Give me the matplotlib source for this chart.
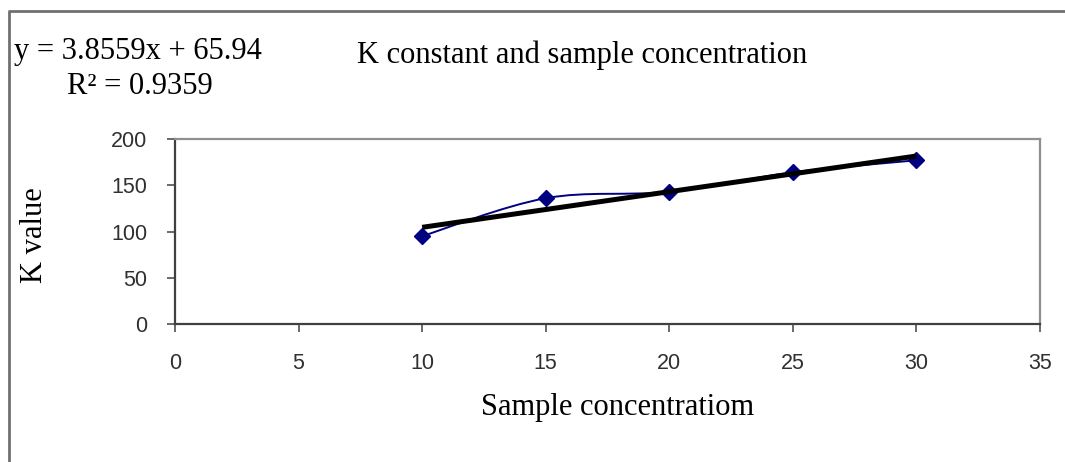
import numpy as np
import matplotlib
matplotlib.use("Agg")
import matplotlib.pyplot as plt
from matplotlib.path import Path
from matplotlib.patches import PathPatch
from matplotlib.lines import Line2D

# Data
concentration = [10, 15, 20, 25, 30]
k_value = [95, 136, 143, 164, 177]
x_ticks = [0, 5, 10, 15, 20, 25, 30, 35]
y_ticks = [0, 50, 100, 150, 200]
title = "K constant and sample concentration"
x_label = "Sample concentratiom"
y_label = "K value"
eq_text = "y = 3.8559x + 65.94"
r2_text = "R\u00b2 = 0.9359"
slope, intercept = 3.8559, 65.94

serif = "Liberation Serif"
sans = "Liberation Sans"

fig = plt.figure(figsize=(10.65, 4.62), dpi=100)
ax = fig.add_axes([175/1065, 1-324/462, (1040-175)/1065, (324-139)/462])

# smoothed line (Excel-like Bezier through points)
xs = np.array(concentration, float)
ys = np.array(k_value, float)
P = np.column_stack([xs, ys])
n = len(P)
verts = [P[0]]
codes = [Path.MOVETO]
for i in range(n - 1):
    p0 = P[i - 1] if i > 0 else P[i]
    p1 = P[i]
    p2 = P[i + 1]
    p3 = P[i + 2] if i + 2 < n else P[i + 1]
    c1 = p1 + (p2 - p0) / 6
    c2 = p2 - (p3 - p1) / 6
    verts += [c1, c2, p2]
    codes += [Path.CURVE4] * 3
ax.add_patch(PathPatch(Path(verts, codes), facecolor="none", edgecolor="#000080", lw=1.4, zorder=3))
ax.plot(concentration, k_value, linestyle="none", marker="D", markersize=8.5,
        color="#000080", zorder=4)

# trendline
tx = np.array([concentration[0], concentration[-1]], float)
ax.plot(tx, slope * tx + intercept, color="black", lw=3.6, zorder=5, solid_capstyle="butt")

ax.set_xlim(0, 35)
ax.set_ylim(0, 200)
ax.set_xticks(x_ticks)
ax.set_yticks(y_ticks)
ax.tick_params(direction="out", length=6, width=1.2, color="#505050",
               labelsize=15.5, labelcolor="#303030")
ax.tick_params(axis="x", pad=15)
ax.tick_params(axis="y", pad=14)
for lab in ax.get_xticklabels() + ax.get_yticklabels():
    lab.set_fontfamily(sans)
for s in ["left", "bottom"]:
    ax.spines[s].set_color("#404040")
    ax.spines[s].set_linewidth(1.6)
for s in ["top", "right"]:
    ax.spines[s].set_color("#909090")
    ax.spines[s].set_linewidth(1.6)

fig.text(14/1065, 1-52/462, eq_text, family=serif, fontsize=22, va="center", ha="left")
fig.text(67/1065, 1-86/462, r2_text, family=serif, fontsize=22, va="center", ha="left")
fig.text(357/1065, 1-55/462, title, family=serif, fontsize=22, va="center", ha="left")
fig.text(618/1065, 1-408/462, x_label, family=serif, fontsize=22, va="center", ha="center")
fig.text(35/1065, 1-235/462, y_label, family=serif, fontsize=22, va="center", ha="center", rotation=90)

# outer border (left and top)
fig.add_artist(Line2D([9/1065, 9/1065], [0, 1-10.5/462], color="#707070", lw=2,
                      transform=fig.transFigure, solid_capstyle="butt"))
fig.add_artist(Line2D([8/1065, 1], [1-10.5/462, 1-10.5/462], color="#707070", lw=2,
                      transform=fig.transFigure, solid_capstyle="butt"))

fig.savefig("out.png", dpi=100, facecolor="white")
